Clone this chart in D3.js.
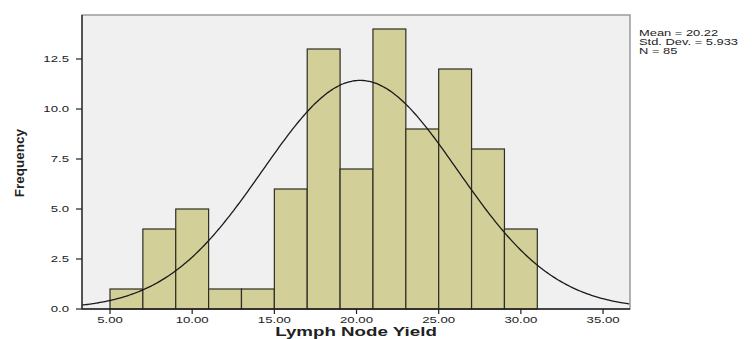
<!DOCTYPE html>
<html>
<head>
<meta charset="utf-8">
<script src="https://cdn.jsdelivr.net/npm/d3@7"></script>
<style>
  body { margin: 0; background: #fff; }
  text { font-family: "Liberation Sans", Arial, sans-serif; fill: #222; }
</style>
</head>
<body>
<div id="chart"></div>
<script>
var svgWidth = 755;
var svgHeight = 339;

// histogram data (bin width 2, starting at 5)
var binStarts = [5, 7, 9, 11, 13, 15, 17, 19, 21, 23, 25, 27, 29];
var counts = [1, 4, 5, 1, 1, 6, 13, 7, 14, 9, 12, 8, 4];
var binWidth = 2;
var xTicks = [5, 10, 15, 20, 25, 30, 35];
var yTicks = [0, 2.5, 5, 7.5, 10, 12.5];
var stats = ["Mean = 20.22", "Std. Dev. = 5.933", "N = 85"];
var mean = 20.22, sd = 5.933, n = 85;

var margin = { top: 15, right: 125, bottom: 30, left: 82 };
var width = svgWidth - margin.left - margin.right;
var height = svgHeight - margin.top - margin.bottom;

// text in the picture is stretched sideways
var stretch = 1.5;

var svg = d3.select("#chart").append("svg")
  .attr("width", svgWidth)
  .attr("height", svgHeight);

var chartGroup = svg.append("g")
  .attr("transform", `translate(${margin.left}, ${margin.top})`);

var x = d3.scaleLinear().domain([3.296, 36.64]).range([0, width]);
var y = d3.scaleLinear().domain([0, 14.7]).range([height, 0]);

// plot background
chartGroup.append("rect")
  .attr("width", width)
  .attr("height", height)
  .attr("fill", "#f0f0f0")
  .attr("stroke", "#9a9a9a")
  .attr("stroke-width", 1.5);

// bars
chartGroup.selectAll(".bar")
  .data(binStarts)
  .enter()
  .append("rect")
  .attr("class", "bar")
  .attr("x", d => x(d))
  .attr("y", (d, i) => y(counts[i]))
  .attr("width", x(binWidth) - x(0))
  .attr("height", (d, i) => height - y(counts[i]))
  .attr("fill", "#d3cf99")
  .attr("stroke", "#2e2e24")
  .attr("stroke-width", 1.2);

// normal curve from mean / sd / N
var curvePts = d3.range(3.296, 36.65, 0.1).map(function (v) {
  var z = (v - mean) / sd;
  return [v, n * binWidth * Math.exp(-0.5 * z * z) / (sd * Math.sqrt(2 * Math.PI))];
});
chartGroup.append("path")
  .datum(curvePts)
  .attr("fill", "none")
  .attr("stroke", "#1a1a1a")
  .attr("stroke-width", 1.3)
  .attr("d", d3.line().x(d => x(d[0])).y(d => y(d[1])).curve(d3.curveBasis));

// axes lines
chartGroup.append("line")
  .attr("x1", 0).attr("x2", 0).attr("y1", 0).attr("y2", height)
  .attr("stroke", "#222").attr("stroke-width", 1.3);
chartGroup.append("line")
  .attr("x1", 0).attr("x2", width).attr("y1", height).attr("y2", height)
  .attr("stroke", "#222").attr("stroke-width", 1.3);

// x ticks
var xt = chartGroup.selectAll(".xtick").data(xTicks).enter().append("g")
  .attr("transform", d => `translate(${x(d)}, ${height})`);
xt.append("line").attr("y1", 0).attr("y2", 5).attr("stroke", "#222").attr("stroke-width", 1.2);
xt.append("text")
  .attr("transform", `translate(0, 13.5) scale(${stretch}, 1)`)
  .attr("text-anchor", "middle")
  .attr("font-size", 8.8)
  .attr("fill", "#333")
  .text(d => d.toFixed(2));

// y ticks
var yt = chartGroup.selectAll(".ytick").data(yTicks).enter().append("g")
  .attr("transform", d => `translate(0, ${y(d)})`);
yt.append("line").attr("x1", -6).attr("x2", 0).attr("stroke", "#222").attr("stroke-width", 1.2);
yt.append("text")
  .attr("transform", `translate(-13, 3) scale(${stretch}, 1)`)
  .attr("text-anchor", "end")
  .attr("font-size", 8.8)
  .attr("fill", "#333")
  .text(d => d.toFixed(1));

// axis titles
svg.append("text")
  .attr("transform", `translate(24, 163) rotate(-90)`)
  .attr("text-anchor", "middle")
  .attr("font-size", 13.5)
  .attr("font-weight", "bold")
  .attr("font-family", "'Liberation Sans Narrow', 'Arial Narrow', sans-serif")
  .text("Frequency");

svg.append("text")
  .attr("transform", `translate(356, 335.5) scale(${stretch}, 1)`)
  .attr("text-anchor", "middle")
  .attr("font-size", 12.5)
  .attr("font-weight", "bold")
  .attr("fill", "#111")
  .text("Lymph Node Yield");

// stats box
svg.selectAll(".stat").data(stats).enter().append("text")
  .attr("transform", (d, i) => `translate(639, ${36 + i * 9}) scale(${stretch}, 1)`)
  .attr("font-size", 8.6)
  .attr("fill", "#333")
  .text(d => d);
</script>
</body>
</html>
